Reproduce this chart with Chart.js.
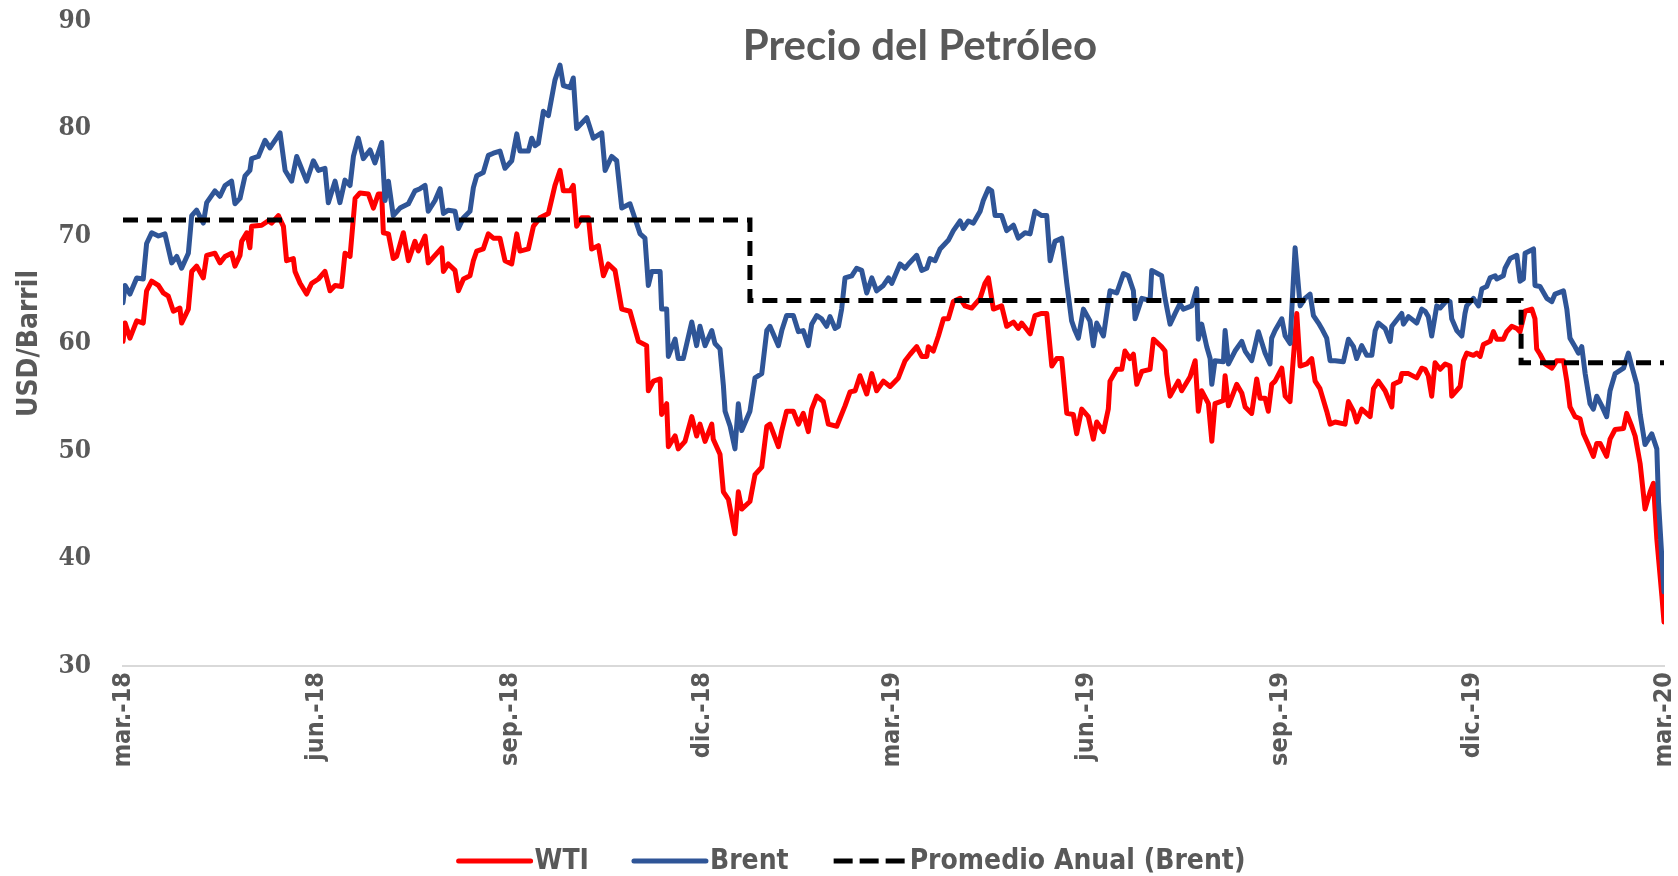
<!DOCTYPE html>
<html>
<head>
<meta charset="utf-8">
<title>Precio del Petróleo</title>
<script src="https://cdn.jsdelivr.net/npm/chart.js@4.4.1/dist/chart.umd.min.js"></script>
<style>
  html, body { margin: 0; padding: 0; background: #fff; }
  canvas { display: block; }
</style>
</head>
<body>
<canvas id="oilChart" width="1678" height="876"></canvas>
<script>
// x values are days counted from 1 mar 2018
const tickDays = [0, 92, 184, 275, 365, 457, 549, 640, 731];
const tickLabels = ['mar.-18', 'jun.-18', 'sep.-18', 'dic.-18', 'mar.-19', 'jun.-19', 'sep.-19', 'dic.-19', 'mar.-20'];

const brentDays = [
  0, 1, 3.3, 6.5, 9.6, 11.2, 13.6, 16.8, 19.9, 23.1,
  25.5, 27.8, 31.0, 32.6, 34.9, 38.1, 39.7, 43.6, 46.0, 48.4,
  51.5, 53.1, 55.5, 57.9, 60.2, 61.0, 64.2, 67.4, 69.7, 74.5,
  76.9, 80.0, 82.4, 87.1, 90.3, 92.7, 95.8, 97.4, 100.6, 102.9,
  105.3, 107.7, 109.3, 111.6, 114.0, 117.2, 119.5, 122.7, 124.3, 125.9,
  128.2, 131.4, 135.4, 138.5, 140.9, 143.3, 144.8, 148.0, 150.4, 152.0,
  154.3, 157.5, 159.1, 161.5, 164.6, 166.2, 167.8, 170.9, 173.3, 175.7,
  178.8, 181.2, 184.4, 186.8, 188.3, 192.3, 193.9, 195.5, 197.0, 199.4,
  201.8, 204.9, 207.3, 208.9, 212.1, 213.6, 215.2, 220.0, 223.1, 227.1,
  228.7, 231.8, 234.2, 236.6, 240.5, 242.9, 245.3, 247.6, 249.2, 250.8,
  254.8, 255.5, 257.9, 258.7, 261.9, 263.4, 265.8, 269.8, 272.1, 273.7,
  276.1, 279.3, 280.8, 283.2, 284.8, 285.6, 288.0, 290.3, 291.9, 293.5,
  297.4, 299.8, 303.0, 305.4, 306.9, 310.9, 312.5, 314.8, 318.0, 320.4,
  322.7, 325.1, 326.7, 329.1, 331.4, 333.8, 335.4, 337.8, 339.4, 340.9,
  342.5, 345.7, 348.0, 350.4, 352.8, 355.2, 357.5, 360.7, 363.1, 364.7,
  368.6, 371.0, 372.6, 376.5, 378.9, 381.3, 382.8, 385.2, 387.6, 391.5,
  393.9, 397.1, 398.6, 401.0, 403.4, 406.6, 408.1, 410.5, 412.1, 413.7,
  416.8, 419.2, 422.4, 424.7, 427.9, 430.3, 432.6, 435.8, 438.2, 439.8,
  442.1, 445.3, 447.7, 450.0, 451.6, 453.2, 455.6, 458.7, 460.3, 461.9,
  465.1, 468.2, 471.4, 474.6, 476.9, 479.3, 480.1, 483.3, 487.2, 488.0,
  492.7, 494.3, 496.7, 499.1, 501.4, 503.0, 507.0, 509.3, 510.1, 511.7,
  514.1, 515.7, 516.5, 518.0, 522.0, 522.8, 524.4, 527.5, 530.7, 532.3,
  535.4, 538.6, 541.8, 544.1, 544.9, 546.5, 549.7, 551.3, 553.6, 556.0,
  558.4, 560.7, 563.1, 564.7, 567.1, 568.6, 571.0, 572.6, 575.0, 578.9,
  581.3, 583.7, 585.2, 587.6, 590.0, 592.4, 594.0, 595.5, 598.7, 601.1,
  601.9, 606.6, 607.4, 609.8, 613.7, 616.1, 617.7, 619.2, 620.8, 623.2,
  624.8, 627.9, 629.5, 630.3, 632.7, 635.1, 636.6, 637.4, 640.6, 643.0,
  644.6, 646.9, 648.5, 650.9, 651.7, 654.8, 655.6, 658.0, 661.2, 662.7,
  664.3, 665.1, 669.1, 669.8, 672.2, 675.4, 677.8, 679.3, 683.3, 684.9,
  686.4, 688.8, 690.4, 692.0, 693.6, 695.9, 697.5, 699.1, 701.5, 703.8,
  705.4, 707.8, 711.8, 714.1, 715.7, 718.1, 719.7, 722.0, 725.2, 727.6,
  728.4, 730.0, 731.0,
];
const brentPrices = [
  63.8, 65.4, 64.6, 66.1, 66.0, 69.3, 70.3, 70.0, 70.2, 67.5,
  68.1, 67.0, 68.4, 71.9, 72.4, 71.2, 73.1, 74.2, 73.7, 74.7,
  75.1, 73.0, 73.5, 75.6, 76.1, 77.2, 77.4, 78.9, 78.2, 79.6,
  76.1, 75.1, 77.4, 75.1, 77.0, 76.1, 76.3, 73.1, 75.1, 73.1,
  75.2, 74.7, 77.4, 79.1, 77.2, 78.0, 76.8, 78.7, 73.3, 75.1,
  71.9, 72.6, 73.0, 74.2, 74.4, 74.7, 72.3, 73.3, 74.4, 72.1,
  72.4, 72.3, 70.7, 71.7, 72.3, 74.5, 75.6, 75.9, 77.5, 77.7,
  77.9, 76.3, 77.0, 79.5, 77.9, 77.9, 79.1, 78.4, 78.6, 81.6,
  81.2, 84.5, 85.9, 84.0, 83.8, 84.7, 80.0, 81.0, 79.1, 79.6,
  76.1, 77.4, 77.0, 72.6, 73.0, 71.6, 70.2, 69.8, 65.4, 66.7,
  66.7, 63.2, 63.2, 58.8, 60.4, 58.6, 58.6, 62.0, 59.8, 61.6,
  59.8, 61.2, 60.0, 59.5, 56.1, 53.7, 52.3, 50.2, 54.4, 51.9,
  53.7, 56.8, 57.2, 61.2, 61.6, 59.8, 61.2, 62.6, 62.6, 61.1,
  61.2, 59.8, 61.8, 62.6, 62.3, 61.6, 62.5, 61.4, 61.6, 63.2,
  66.1, 66.3, 67.0, 66.8, 64.7, 66.1, 64.9, 65.4, 66.1, 65.6,
  67.4, 67.0, 67.4, 68.2, 66.8, 67.0, 67.9, 67.7, 68.8, 69.6,
  70.5, 71.4, 70.7, 71.4, 71.2, 72.3, 73.3, 74.4, 74.2, 71.9,
  71.9, 70.5, 71.0, 69.8, 70.3, 70.2, 72.3, 71.9, 71.9, 67.7,
  69.5, 69.8, 65.6, 62.1, 61.2, 60.5, 63.2, 62.1, 59.8, 61.9,
  60.7, 64.9, 64.7, 66.5, 66.3, 64.9, 62.3, 64.2, 64.0, 66.8,
  66.3, 64.2, 61.8, 62.8, 63.7, 63.2, 63.5, 65.1, 60.4, 61.8,
  59.7, 58.6, 56.2, 58.4, 58.3, 61.2, 58.1, 59.3, 60.2, 59.3,
  58.4, 61.1, 59.1, 58.1, 60.5, 61.2, 62.3, 60.7, 60.0, 68.9,
  63.5, 64.2, 64.6, 62.6, 61.9, 61.4, 60.5, 58.4, 58.4, 58.3,
  60.4, 59.7, 58.6, 59.8, 58.9, 58.9, 61.2, 61.9, 61.4, 60.2,
  61.6, 62.8, 61.8, 62.5, 61.9, 63.2, 63.0, 62.5, 60.7, 63.5,
  63.3, 64.0, 63.9, 62.3, 61.2, 60.7, 62.8, 63.5, 64.2, 63.5,
  65.1, 65.3, 66.1, 66.3, 66.0, 66.3, 67.0, 67.9, 68.2, 65.8,
  66.0, 68.4, 68.8, 65.4, 65.3, 64.2, 63.9, 64.6, 64.9, 63.2,
  60.5, 59.7, 59.1, 59.7, 57.2, 54.4, 53.9, 55.1, 54.2, 53.2,
  55.6, 57.2, 57.7, 59.1, 57.9, 56.2, 53.4, 50.6, 51.6, 50.2,
  45.3, 40.0, 36.9,
];

const wtiDays = [
  0, 1, 3.3, 6.5, 9.6, 11.2, 13.6, 16.8, 19.1, 21.5,
  23.9, 27.0, 27.8, 31.0, 32.6, 34.9, 38.1, 39.7, 43.6, 46.0,
  48.4, 51.5, 53.1, 55.5, 56.3, 58.7, 60.2, 61.0, 65.8, 68.9,
  70.5, 73.7, 76.1, 77.6, 80.8, 81.6, 84.0, 87.1, 89.5, 92.7,
  95.8, 98.2, 100.6, 103.7, 105.3, 107.7, 110.1, 112.4, 116.4, 118.8,
  121.1, 122.7, 123.5, 125.9, 128.2, 129.8, 133.0, 135.4, 138.5, 140.1,
  143.3, 144.8, 148.0, 151.2, 152.0, 154.3, 157.5, 159.1, 161.5, 164.6,
  166.2, 167.8, 170.9, 173.3, 175.7, 178.8, 181.2, 184.4, 186.8, 188.3,
  192.3, 194.7, 197.8, 201.8, 204.9, 207.3, 208.9, 212.1, 213.6, 215.2,
  217.6, 220.8, 222.3, 225.5, 227.9, 230.2, 233.4, 236.6, 240.5, 244.5,
  248.4, 249.2, 251.6, 254.8, 255.5, 257.9, 258.7, 261.9, 263.4, 266.6,
  269.8, 272.1, 273.7, 276.1, 279.3, 280.0, 283.2, 284.8, 287.2, 290.3,
  291.9, 293.5, 297.4, 299.8, 303.0, 305.4, 306.9, 310.9, 312.5, 314.8,
  318.0, 320.4, 322.7, 325.1, 326.7, 329.1, 332.2, 334.6, 338.6, 342.5,
  344.9, 347.3, 349.6, 352.8, 355.2, 357.5, 360.7, 363.9, 367.8, 371.0,
  373.4, 376.5, 378.9, 381.3, 382.0, 384.4, 386.8, 389.2, 391.5, 393.9,
  397.1, 399.4, 402.6, 406.6, 408.9, 410.5, 412.9, 416.8, 419.2, 422.4,
  424.7, 426.3, 430.3, 432.6, 435.8, 438.2, 440.6, 442.9, 445.3, 447.7,
  450.8, 452.4, 454.8, 457.9, 460.3, 461.9, 465.1, 467.4, 468.2, 471.4,
  473.8, 475.3, 477.7, 479.3, 480.9, 483.3, 487.2, 488.8, 492.7, 494.3,
  495.1, 496.7, 500.6, 502.2, 506.2, 508.6, 510.1, 511.7, 514.9, 516.5,
  518.0, 522.0, 522.8, 524.4, 528.3, 530.7, 532.3, 535.4, 537.8, 539.4,
  541.8, 543.3, 544.9, 546.5, 549.7, 551.3, 553.6, 556.8, 558.4, 561.5,
  563.9, 565.5, 567.8, 571.0, 572.6, 575.0, 579.7, 581.3, 583.7, 585.2,
  587.6, 591.6, 593.2, 595.5, 598.7, 601.9, 602.6, 605.8, 606.6, 609.8,
  613.7, 616.1, 617.7, 619.2, 620.8, 622.4, 624.8, 627.2, 629.5, 630.3,
  634.3, 635.9, 637.4, 640.6, 642.2, 643.8, 645.3, 648.5, 650.1, 651.7,
  654.8, 656.4, 658.8, 661.2, 662.7, 665.1, 668.3, 669.8, 670.6, 672.2,
  674.6, 677.8, 680.1, 683.3, 684.9, 686.4, 688.8, 691.2, 692.8, 695.1,
  697.5, 699.1, 700.7, 703.8, 705.4, 707.8, 711.8, 713.3, 715.7, 717.3,
  719.7, 722.0, 724.4, 726.0, 727.6, 730.0, 731.0,
];
const wtiPrices = [
  60.2, 61.9, 60.5, 62.1, 61.9, 64.9, 65.8, 65.4, 64.7, 64.4,
  63.0, 63.3, 61.9, 63.2, 66.7, 67.2, 66.1, 68.2, 68.4, 67.5,
  68.1, 68.4, 67.2, 68.2, 69.5, 70.3, 68.9, 70.9, 71.0, 71.4,
  71.2, 71.9, 70.9, 67.7, 67.9, 66.7, 65.6, 64.6, 65.6, 66.0,
  66.7, 64.9, 65.4, 65.3, 68.4, 68.1, 73.5, 74.0, 73.9, 72.6,
  73.9, 73.9, 70.3, 70.2, 67.9, 68.1, 70.3, 67.7, 69.5, 68.6,
  70.0, 67.5, 68.2, 68.9, 66.7, 67.4, 66.8, 64.9, 66.0, 66.3,
  67.7, 68.6, 68.8, 70.2, 69.8, 69.8, 67.7, 67.4, 70.2, 68.6,
  68.8, 70.9, 71.7, 72.1, 74.7, 76.1, 74.2, 74.2, 74.7, 70.9,
  71.7, 71.7, 68.8, 69.1, 66.3, 67.4, 66.8, 63.2, 63.0, 60.2,
  59.8, 55.6, 56.5, 56.7, 53.4, 54.4, 50.4, 51.4, 50.2, 50.9,
  53.2, 51.4, 52.5, 50.9, 52.5, 51.1, 49.7, 46.2, 45.5, 42.3,
  46.2, 44.6, 45.3, 47.8, 48.5, 52.3, 52.5, 50.4, 51.9, 53.7,
  53.7, 52.5, 53.5, 51.8, 53.9, 55.1, 54.6, 52.5, 52.3, 54.2,
  55.5, 55.6, 57.0, 55.3, 57.2, 55.6, 56.5, 56.0, 56.8, 58.4,
  59.0, 59.7, 58.8, 58.8, 59.7, 59.3, 60.7, 62.3, 62.3, 63.9,
  64.2, 63.5, 63.3, 64.2, 65.6, 66.1, 63.2, 63.5, 61.6, 62.0,
  61.4, 61.9, 60.9, 62.6, 62.8, 62.8, 57.9, 58.6, 58.6, 53.5,
  53.4, 51.6, 53.9, 53.2, 51.1, 52.7, 51.8, 53.9, 56.5, 57.6,
  57.6, 59.3, 58.6, 59.0, 56.2, 57.4, 57.6, 60.4, 59.7, 59.3,
  57.2, 55.1, 56.5, 55.6, 56.9, 58.4, 53.7, 55.6, 54.4, 50.9,
  54.4, 54.7, 57.0, 54.2, 56.2, 55.4, 54.1, 53.5, 56.7, 54.9,
  54.9, 53.7, 56.2, 56.5, 57.7, 55.1, 54.6, 62.8, 57.9, 58.1,
  58.6, 56.5, 55.8, 53.7, 52.5, 52.7, 52.5, 54.6, 53.7, 52.7,
  53.9, 53.2, 55.8, 56.5, 55.6, 54.1, 56.2, 56.5, 57.2, 57.2,
  56.8, 57.7, 57.6, 57.0, 55.1, 58.2, 57.6, 58.1, 57.9, 55.1,
  56.0, 58.4, 59.1, 58.9, 59.1, 58.8, 59.9, 60.2, 61.1, 60.4,
  60.4, 61.1, 61.6, 61.4, 61.1, 63.0, 63.2, 62.3, 59.5, 59.0,
  58.1, 57.7, 58.4, 58.4, 56.5, 54.1, 53.2, 53.0, 51.6, 50.6,
  49.5, 50.7, 50.7, 49.5, 51.1, 52.0, 52.1, 53.5, 52.3, 51.4,
  48.8, 44.6, 46.2, 47.0, 41.8, 36.5, 34.1,
];

// yearly Brent average, drawn as a step
const avgDays = [0, 297.4, 297.4, 663.2, 663.2, 731];
const avgPrices = [71.5, 71.5, 64.0, 64.0, 58.2, 58.2];

const textGray = '#595959';
const condensedFont = "'DejaVu Sans Condensed', 'Liberation Sans Narrow', sans-serif";

const toPoints = (days, prices) => days.map((d, i) => ({ x: d, y: prices[i] }));

// title sits inside the plot area, so it is drawn by hand
const titlePlugin = {
  id: 'chartTitle',
  afterDraw(chart) {
    const ctx = chart.ctx;
    ctx.save();
    ctx.font = "bold 42px Lato, 'Open Sans', sans-serif";
    ctx.fillStyle = textGray;
    ctx.textAlign = 'center';
    ctx.textBaseline = 'alphabetic';
    ctx.fillText('Precio del Petróleo', 920, 60);
    ctx.restore();
  },
};

// legend with long line samples and a tight gap before the text
const legendPlugin = {
  id: 'bottomLegend',
  afterDraw(chart) {
    const ctx = chart.ctx;
    const sampleLength = 72;
    const textGap = 4;
    const itemGap = 45;
    const y = 861;
    ctx.save();
    ctx.font = `bold 28px ${condensedFont}`;
    const items = chart.data.datasets.map((ds) => ({
      ds,
      width: sampleLength + textGap + ctx.measureText(ds.label).width,
    }));
    const total = items.reduce((sum, it) => sum + it.width, 0) + itemGap * (items.length - 1);
    let x = 852 - total / 2;
    items.forEach(({ ds, width }) => {
      ctx.beginPath();
      ctx.lineWidth = 5;
      ctx.strokeStyle = ds.borderColor;
      ctx.lineCap = ds.borderDash ? 'butt' : 'round';
      ctx.setLineDash(ds.borderDash ? [19, 7] : []);
      ctx.moveTo(x, y);
      ctx.lineTo(x + sampleLength, y);
      ctx.stroke();
      ctx.setLineDash([]);
      ctx.fillStyle = textGray;
      ctx.textAlign = 'left';
      ctx.textBaseline = 'middle';
      ctx.fillText(ds.label, x + sampleLength + textGap, y + 1);
      x += width + itemGap;
    });
    ctx.restore();
  },
};

new Chart(document.getElementById('oilChart'), {
  type: 'line',
  data: {
    datasets: [
      {
        label: 'WTI',
        data: toPoints(wtiDays, wtiPrices),
        borderColor: '#FF0000',
        borderWidth: 5,
        order: 3,
      },
      {
        label: 'Brent',
        data: toPoints(brentDays, brentPrices),
        borderColor: '#2F5597',
        borderWidth: 5,
        order: 2,
      },
      {
        label: 'Promedio Anual (Brent)',
        data: toPoints(avgDays, avgPrices),
        borderColor: '#000000',
        borderWidth: 5,
        borderDash: [15, 9],
        borderCapStyle: 'butt',
        borderJoinStyle: 'miter',
        order: 1,
      },
    ],
  },
  options: {
    responsive: false,
    animation: false,
    devicePixelRatio: 1,
    layout: { padding: { top: 21, right: 14, bottom: 0, left: 0 } },
    elements: {
      point: { radius: 0 },
      line: { tension: 0, fill: false, borderJoinStyle: 'round', borderCapStyle: 'round' },
    },
    plugins: {
      legend: { display: false },
      tooltip: { enabled: false },
    },
    scales: {
      x: {
        type: 'linear',
        min: 0,
        max: 731,
        grid: { display: false, drawTicks: false },
        border: { display: true, color: '#D9D9D9', width: 2 },
        afterBuildTicks: (scale) => {
          scale.ticks = tickDays.map((v) => ({ value: v }));
        },
        // fixed box so the plot area matches the original
        afterFit: (scale) => {
          scale.height = 210;
          scale.paddingLeft = 0;
          scale.paddingRight = 0;
        },
        ticks: {
          autoSkip: false,
          minRotation: 90,
          maxRotation: 90,
          padding: 6,
          color: textGray,
          font: { family: condensedFont, size: 25, weight: 'bold' },
          callback: (value, index) => tickLabels[index],
        },
      },
      y: {
        min: 30,
        max: 90,
        grid: { display: false, drawTicks: false },
        border: { display: false },
        afterFit: (scale) => {
          scale.width = 123;
          scale.paddingTop = 0;
          scale.paddingBottom = 0;
        },
        ticks: {
          stepSize: 10,
          padding: 32,
          color: textGray,
          font: { family: "'DejaVu Serif Condensed', 'DejaVu Serif', serif", size: 26, weight: 'bold' },
        },
        title: {
          display: true,
          text: 'USD/Barril',
          color: textGray,
          font: { family: condensedFont, size: 28, weight: 'bold' },
          padding: { top: 13, bottom: 0 },
        },
      },
    },
  },
  plugins: [titlePlugin, legendPlugin],
});
</script>
</body>
</html>
